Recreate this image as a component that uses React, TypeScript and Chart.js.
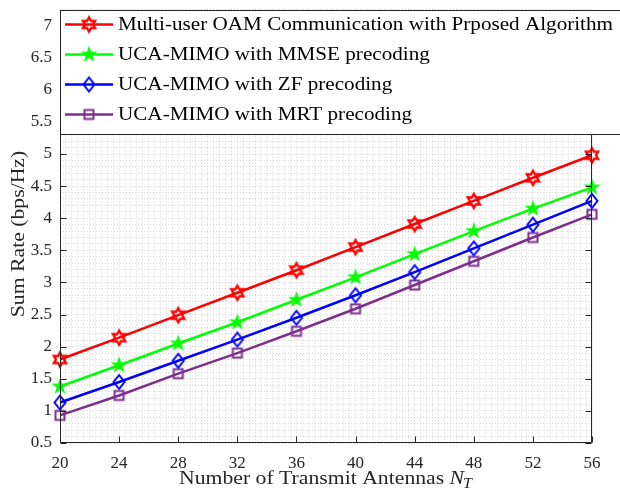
import React, { useEffect, useRef } from "react";
import { Chart, registerables } from "chart.js";

Chart.register(...registerables);

const antennas = [20, 24, 28, 32, 36, 40, 44, 48, 52, 56];
const oamProposed = [1.8, 2.14, 2.49, 2.84, 3.19, 3.55, 3.91, 4.27, 4.63, 4.98];
const mmsePrecoding = [1.38, 1.71, 2.05, 2.38, 2.73, 3.08, 3.44, 3.8, 4.15, 4.48];
const zfPrecoding = [1.13, 1.45, 1.78, 2.11, 2.45, 2.8, 3.16, 3.53, 3.9, 4.27];
const mrtPrecoding = [0.93, 1.24, 1.58, 1.9, 2.24, 2.59, 2.96, 3.33, 3.7, 4.06];

const seriesLabels = [
  "Multi-user OAM Communication with Prposed Algorithm",
  "UCA-MIMO with MMSE precoding",
  "UCA-MIMO with ZF precoding",
  "UCA-MIMO with MRT precoding",
];
const seriesColors = ["#ff0000", "#00ff00", "#0000ff", "#7e2f8e"];
const seriesMarkers = ["hexagram", "pentagram", "diamond", "square"];

const xTickLabels = [20, 24, 28, 32, 36, 40, 44, 48, 52, 56];
const yTickLabels = [0.5, 1, 1.5, 2, 2.5, 3, 3.5, 4, 4.5, 5, 5.5, 6, 6.5, 7];

const xAxisTitle = "Number of Transmit Antennas ";
const yAxisTitle = "Sum Rate (bps/Hz)";

const SERIF = '"Liberation Serif", "Times New Roman", serif';
const AXIS_COLOR = "#262626";

function makeMarker(kind: string, color: string): HTMLCanvasElement {
  const size = 22;
  const c = document.createElement("canvas");
  c.width = size;
  c.height = size;
  const g = c.getContext("2d")!;
  g.translate(size / 2, size / 2);
  g.strokeStyle = color;
  g.fillStyle = color;
  g.lineWidth = 2;
  g.lineJoin = "miter";
  g.beginPath();
  if (kind === "hexagram") {
    const R = 7;
    const r = R / Math.sqrt(3);
    for (let i = 0; i < 12; i++) {
      const ang = -Math.PI / 2 + (i * Math.PI) / 6;
      const rad = i % 2 === 0 ? R : r;
      const px = rad * Math.cos(ang);
      const py = rad * Math.sin(ang);
      if (i === 0) g.moveTo(px, py);
      else g.lineTo(px, py);
    }
    g.closePath();
    g.lineWidth = 2.4;
    g.stroke();
  } else if (kind === "pentagram") {
    const R = 9;
    const r = R * 0.382;
    for (let i = 0; i < 10; i++) {
      const ang = -Math.PI / 2 + (i * Math.PI) / 5;
      const rad = i % 2 === 0 ? R : r;
      const px = rad * Math.cos(ang);
      const py = rad * Math.sin(ang);
      if (i === 0) g.moveTo(px, py);
      else g.lineTo(px, py);
    }
    g.closePath();
    g.fill();
  } else if (kind === "diamond") {
    g.moveTo(0, -7);
    g.lineTo(5.5, 0);
    g.lineTo(0, 7);
    g.lineTo(-5.5, 0);
    g.closePath();
    g.stroke();
  } else {
    g.rect(-4.5, -4.5, 9, 9);
    g.stroke();
  }
  return c;
}

function isMultiple(v: number, step: number) {
  const q = v / step;
  return Math.abs(q - Math.round(q)) < 1e-6;
}

export default function App() {
  const canvasRef = useRef<HTMLCanvasElement | null>(null);

  useEffect(() => {
    const canvas = canvasRef.current;
    if (!canvas) return;
    const markers = seriesMarkers.map((m, i) => makeMarker(m, seriesColors[i]));
    const allSeries = [oamProposed, mmsePrecoding, zfPrecoding, mrtPrecoding];

    const decor = {
      id: "decor",
      afterDraw(chart: any) {
        const { ctx, chartArea: a, scales } = chart;
        const xs = scales.x;
        const ys = scales.y;
        const L = Math.round(a.left) + 0.5;
        const R = Math.round(a.right) - 0.5;
        const T = Math.round(a.top) + 0.5;
        const B = Math.round(a.bottom) - 0.5;
        ctx.save();
        // axes box
        ctx.strokeStyle = AXIS_COLOR;
        ctx.lineWidth = 1;
        ctx.setLineDash([]);
        ctx.beginPath();
        ctx.rect(L, T, R - L, B - T);
        ctx.stroke();
        // inward ticks
        ctx.beginPath();
        xTickLabels.forEach((v) => {
          const px = Math.round(xs.getPixelForValue(v)) + 0.5;
          ctx.moveTo(px, B);
          ctx.lineTo(px, B - 6);
          ctx.moveTo(px, T);
          ctx.lineTo(px, T + 6);
        });
        yTickLabels.forEach((v) => {
          const py = Math.round(ys.getPixelForValue(v)) + 0.5;
          ctx.moveTo(L, py);
          ctx.lineTo(L + 6, py);
          ctx.moveTo(R, py);
          ctx.lineTo(R - 6, py);
        });
        ctx.stroke();

        // legend box
        const lx = L;
        const ly = T;
        const lw = 640 - L;
        const lh = 124;
        ctx.fillStyle = "#ffffff";
        ctx.fillRect(lx, ly, lw, lh);
        ctx.strokeStyle = AXIS_COLOR;
        ctx.lineWidth = 1;
        ctx.strokeRect(lx, ly, lw, lh);
        const legendFont = `19px ${SERIF}`;
        ctx.font = legendFont;
        const firstW = ctx.measureText(seriesLabels[0]).width;
        const legendStretch = Math.min(1.2, Math.max(1, 495 / firstW));
        chart.data.datasets.forEach((ds: any, i: number) => {
          const cy = 24.5 + i * 30;
          ctx.strokeStyle = ds.borderColor;
          ctx.lineWidth = 2.5;
          ctx.beginPath();
          ctx.moveTo(65, cy);
          ctx.lineTo(113, cy);
          ctx.stroke();
          const img = ds.pointStyle as HTMLCanvasElement;
          ctx.drawImage(img, 89 - img.width / 2, cy - img.height / 2);
          ctx.save();
          ctx.fillStyle = "#000000";
          ctx.font = legendFont;
          ctx.textAlign = "left";
          ctx.textBaseline = "middle";
          ctx.translate(118, cy + 1);
          ctx.scale(legendStretch, 1);
          ctx.fillText(ds.label, 0, 0);
          ctx.restore();
        });

        // x-axis title with italic N_T
        ctx.fillStyle = AXIS_COLOR;
        ctx.textBaseline = "alphabetic";
        ctx.textAlign = "left";
        const mainFont = `19px ${SERIF}`;
        const nFont = `italic 19px ${SERIF}`;
        const subFont = `italic 14px ${SERIF}`;
        ctx.font = mainFont;
        const w1 = ctx.measureText(xAxisTitle).width;
        ctx.font = nFont;
        const w2 = ctx.measureText("N").width;
        ctx.font = subFont;
        const w3 = ctx.measureText("T").width;
        const total = w1 + w2 + w3;
        const titleStretch = Math.min(1.25, Math.max(1, 294 / total));
        const cx = (a.left + a.right) / 2;
        ctx.save();
        ctx.translate(cx - (total * titleStretch) / 2, 484);
        ctx.scale(titleStretch, 1);
        let sx = 0;
        ctx.font = mainFont;
        ctx.fillText(xAxisTitle, sx, 0);
        sx += w1;
        ctx.font = nFont;
        ctx.fillText("N", sx, 0);
        sx += w2 - 1;
        ctx.font = subFont;
        ctx.fillText("T", sx, 4);
        ctx.restore();

        // y-axis title
        ctx.save();
        ctx.translate(19, 234);
        ctx.rotate(-Math.PI / 2);
        ctx.scale(titleStretch, 1);
        ctx.font = `19px ${SERIF}`;
        ctx.textAlign = "center";
        ctx.textBaseline = "middle";
        ctx.fillText(yAxisTitle, 0, 0);
        ctx.restore();
        ctx.restore();
      },
    };

    const chart = new Chart(canvas, {
      type: "line",
      data: {
        datasets: allSeries.map((vals, i) => ({
          label: seriesLabels[i],
          data: antennas.map((x, j) => ({ x, y: vals[j] })),
          borderColor: seriesColors[i],
          backgroundColor: seriesColors[i],
          borderWidth: 2.5,
          pointStyle: markers[i] as any,
          pointRadius: 7,
          pointHoverRadius: 7,
          tension: 0,
          clip: false as any,
          fill: false,
        })),
      },
      options: {
        animation: false,
        responsive: false,
        devicePixelRatio: 1,
        layout: { padding: { top: 8, right: 28, left: 0, bottom: 0 } },
        plugins: {
          legend: { display: false },
          tooltip: { enabled: false },
        },
        scales: {
          x: {
            type: "linear",
            min: 20,
            max: 56,
            border: { display: false, dash: [1, 2] },
            grid: {
              color: "rgba(0,0,0,0.16)",
              lineWidth: 1,
              drawTicks: false,
            },
            ticks: {
              stepSize: 0.4,
              maxTicksLimit: 200,
              autoSkip: false,
              maxRotation: 0,
              minRotation: 0,
              padding: 10,
              color: AXIS_COLOR,
              font: { family: SERIF, size: 17 },
              callback: (v: any) => (isMultiple(Number(v), 4) ? String(Math.round(Number(v))) : ""),
            },
            afterFit: (s: any) => {
              s.height = 49;
              s.paddingLeft = 0;
              s.paddingRight = 0;
            },
          },
          y: {
            type: "linear",
            min: 0.5,
            max: 7.25,
            border: { display: false, dash: [1, 2] },
            grid: {
              color: "rgba(0,0,0,0.16)",
              lineWidth: 1,
              drawTicks: false,
            },
            ticks: {
              stepSize: 0.1,
              maxTicksLimit: 200,
              autoSkip: false,
              padding: 8,
              color: AXIS_COLOR,
              font: { family: SERIF, size: 17 },
              callback: (v: any) => {
                const n = Number(v);
                if (!isMultiple(n, 0.5)) return "";
                const r = Math.round(n * 2) / 2;
                return Number.isInteger(r) ? String(r) : r.toFixed(1);
              },
            },
            afterFit: (s: any) => {
              s.width = 60;
              s.paddingTop = 0;
              s.paddingBottom = 0;
            },
          },
        },
      },
      plugins: [decor],
    } as any);

    return () => {
      chart.destroy();
    };
  }, []);

  return (
    <div style={{ position: "absolute", left: 0, top: 0, width: 620, height: 492, background: "#ffffff" }}>
      <canvas ref={canvasRef} width={620} height={492} style={{ display: "block", width: 620, height: 492 }} />
    </div>
  );
}
